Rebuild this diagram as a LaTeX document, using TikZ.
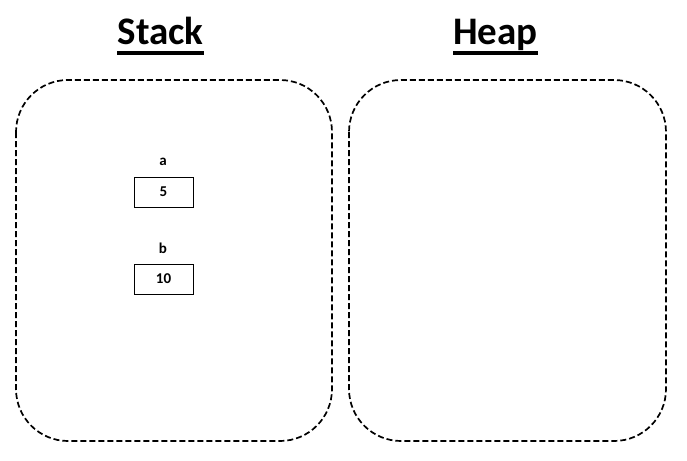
\documentclass[tikz,border=0pt]{standalone}
\usepackage{fontspec}
\setmainfont{Carlito}
\begin{document}
\begin{tikzpicture}[x=1pt,y=-1pt,
  region/.style={draw=black,line width=1.7pt,dash pattern=on 6pt off 3pt,rounded corners=52pt},
  title/.style={font=\fontsize{39}{42}\selectfont\bfseries,inner sep=0pt,anchor=base},
  cell/.style={draw=black,line width=0.9pt,minimum width=59pt,minimum height=30pt,inner sep=0pt,font=\fontsize{15}{17}\selectfont\bfseries},
  lbl/.style={font=\fontsize{15}{17}\selectfont\bfseries,inner sep=0pt,anchor=base}]
\useasboundingbox (0,0) rectangle (687,460);
\fill[white] (0,0) rectangle (687,460);
\draw[region] (16,80) rectangle (332,441);
\draw[region] (349,80) rectangle (666,441);
\node[title] (st) at (160.5,45) {Stack};
\node[title] (hp) at (495.5,45) {Heap};
\fill (st.west |- 0,51.5) rectangle (st.east |- 0,55);
\fill (hp.west |- 0,51.5) rectangle (hp.east |- 0,55);
\node[lbl] (la) at (163,165.5) {a};
\node[cell] (ca) at (163.5,192) {5};
\node[lbl] (lb) at (163,253) {b};
\node[cell] (cb) at (163.5,279) {10};
\end{tikzpicture}
\end{document}
